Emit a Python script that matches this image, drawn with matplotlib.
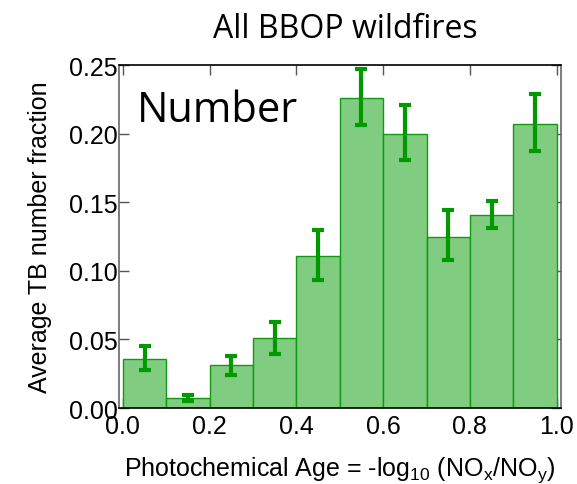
import matplotlib
matplotlib.use("Agg")
import matplotlib.pyplot as plt

# bin edges / centres of photochemical age
bin_left = [0.0, 0.1, 0.2, 0.3, 0.4, 0.5, 0.6, 0.7, 0.8, 0.9]
frac = [0.036, 0.007, 0.031, 0.051, 0.111, 0.226, 0.200, 0.125, 0.141, 0.207]
err_lo = [0.008, 0.0022, 0.007, 0.012, 0.018, 0.020, 0.019, 0.017, 0.010, 0.020]
err_hi = [0.009, 0.0022, 0.007, 0.012, 0.019, 0.021, 0.021, 0.019, 0.010, 0.022]
xticks = [0.0, 0.2, 0.4, 0.6, 0.8, 1.0]
yticks = [0.00, 0.05, 0.10, 0.15, 0.20, 0.25]

plt.rcParams['font.family'] = ['Liberation Sans', 'DejaVu Sans']
plt.rcParams['mathtext.default'] = 'regular'

fig = plt.figure(figsize=(5.77, 4.85), dpi=100)
ax = fig.add_axes([0.2062, 0.1567, 0.7661, 0.7072])

ax.bar(bin_left, frac, width=0.1, align='edge', color='#80cc80',
       edgecolor='#119911', linewidth=1.0, zorder=2)
centres = [b + 0.05 for b in bin_left]
ax.errorbar(centres, frac, yerr=[err_lo, err_hi], fmt='none', ecolor='#009900',
            elinewidth=3, capsize=4, capthick=3, zorder=3)

ax.set_xlim(-0.009, 1.01)
ax.set_ylim(0, 0.25)
ax.set_xticks(xticks)
ax.set_yticks(yticks)
ax.set_xticklabels(['%.1f' % t for t in xticks])
ax.set_yticklabels(['%.2f' % t for t in yticks])
ax.tick_params(direction='in', top=True, right=True, length=7, width=1,
               labelsize=18, pad=1, color='#555555')
ax.tick_params(axis='x', pad=4)
for s in ax.spines.values():
    s.set_linewidth(1.2)
ax.spines['left'].set_color('#666666')
ax.spines['right'].set_color('#666666')

ax.set_ylabel('Average TB number fraction', fontsize=18, labelpad=12)
ax.set_xlabel('Photochemical Age = -log$_{10}$ (NO$_x$/NO$_y$)', fontsize=18, labelpad=12)

ax.text(0.04, 0.93, 'Number', transform=ax.transAxes, fontsize=30,
        family='Open Sans', va='top', ha='left')
fig.text(0.598, 0.94, 'All BBOP wildfires', fontsize=23, family='Open Sans',
         ha='center', va='center')

fig.savefig('out.png', dpi=100)
